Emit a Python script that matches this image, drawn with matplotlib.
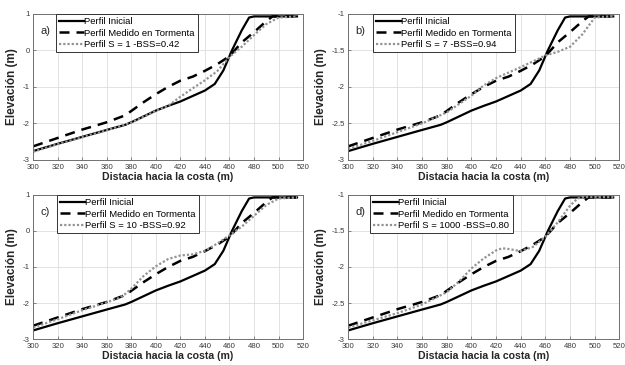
import matplotlib
matplotlib.use('Agg')
import matplotlib.pyplot as plt

plt.rcParams['font.family'] = ['Liberation Sans', 'DejaVu Sans']

'''
1.Data (read from the picture, elevation in the units of panels a/c)
'''
# Initial profile
x_ini = [300, 320, 340, 360, 375, 380, 400, 410, 420, 440, 448, 455, 462, 470, 476, 480, 515]
y_ini = [-2.76, -2.56, -2.37, -2.18, -2.04, -1.97, -1.65, -1.52, -1.4, -1.1, -0.92, -0.55, 0.0, 0.55, 0.9, 0.93, 0.93]

# Profile measured during the storm
x_med = [300, 320, 340, 360, 375, 380, 390, 400, 410, 420, 430, 440, 450, 460, 470, 480, 490, 495, 515]
y_med = [-2.63, -2.4, -2.17, -1.97, -1.78, -1.66, -1.42, -1.2, -1.0, -0.83, -0.72, -0.56, -0.38, -0.16, 0.22, 0.5, 0.8, 0.93, 0.93]

# Modelled profiles
x_s1 = [300, 320, 340, 360, 380, 400, 410, 420, 430, 440, 450, 460, 470, 480, 490, 500, 515]
y_s1 = [-2.78, -2.57, -2.38, -2.19, -1.98, -1.66, -1.52, -1.27, -1.04, -0.82, -0.57, -0.18, 0.1, 0.42, 0.72, 0.9, 0.93]

x_s7 = [300, 320, 340, 360, 380, 400, 410, 420, 440, 460, 470, 480, 490, 500, 515]
y_s7 = [-2.7, -2.48, -2.24, -2.0, -1.7, -1.24, -0.96, -0.76, -0.46, -0.14, -0.04, 0.1, 0.44, 0.9, 0.94]

x_s10 = [300, 320, 340, 360, 370, 375, 380, 390, 400, 410, 420, 430, 440, 450, 460, 470, 480, 490, 500, 515]
y_s10 = [-2.68, -2.45, -2.2, -1.98, -1.86, -1.75, -1.6, -1.25, -0.98, -0.78, -0.68, -0.65, -0.55, -0.35, -0.12, 0.12, 0.42, 0.72, 0.9, 0.93]

x_s1000 = [300, 320, 340, 360, 380, 390, 400, 410, 420, 425, 430, 440, 450, 460, 470, 480, 486, 490, 515]
y_s1000 = [-2.68, -2.48, -2.28, -2.04, -1.7, -1.4, -1.04, -0.76, -0.54, -0.48, -0.5, -0.56, -0.44, -0.16, 0.24, 0.7, 0.9, 0.94, 0.94]

panel_tags = ['a)', 'b)', 'c)', 'd)']
model_labels = ['Perfil S = 1 -BSS=0.42', 'Perfil S = 7 -BSS=0.94',
                'Perfil S = 10 -BSS=0.92', 'Perfil S = 1000 -BSS=0.80']
model_x = [x_s1, x_s7, x_s10, x_s1000]
model_y = [y_s1, y_s7, y_s10, y_s1000]

xticks = [300, 320, 340, 360, 380, 400, 420, 440, 460, 480, 500, 520]
yticks = [-3, -2, -1, 0, 1]
ytick_labels_ac = ['-3', '-2', '-1', '0', '1']
ytick_labels_bd = ['-3', '-2.5', '-2', '-1.5', '-1']  # panels b and d are labelled this way

'''
2.Draw the 4 panels
'''
fig = plt.figure(figsize=(6.25, 3.65), dpi=100)

# [left, bottom, width, height] in figure fractions
boxes = [[0.053, 0.562, 0.432, 0.400],
         [0.557, 0.562, 0.434, 0.400],
         [0.053, 0.071, 0.432, 0.395],
         [0.557, 0.071, 0.434, 0.395]]
legend_x = [0.085, 0.092, 0.089, 0.081]

for i in range(0, 4):
    ax = fig.add_axes(boxes[i])

    ax.plot(x_ini, y_ini, color='k', lw=1.6, label='Perfil Inicial')
    ax.plot(x_med, y_med, color='k', lw=1.8, dashes=(4, 2.8), label='Perfil Medido en Tormenta')
    ax.plot(model_x[i], model_y[i], color='#939393', lw=1.6, dashes=(1, 0.9), label=model_labels[i])

    ax.set_xlim(300, 520)
    ax.set_ylim(-3, 1)
    ax.set_xticks(xticks)
    ax.set_yticks(yticks)
    if i % 2 == 0:
        ax.set_yticklabels(ytick_labels_ac)
    else:
        ax.set_yticklabels(ytick_labels_bd)

    ax.grid(True, color='#dedede', lw=0.6)
    ax.set_axisbelow(True)
    for s in ax.spines.values():
        s.set_color('#707070')
        s.set_linewidth(0.7)
    ax.tick_params(direction='in', length=2.5, width=0.6, colors='#707070',
                   labelcolor='#3a3a3a', labelsize=5.6)
    ax.tick_params(axis='x', pad=3)
    ax.tick_params(axis='y', pad=2.5)

    ax.set_xlabel('Distacia hacia la costa (m)', fontsize=7.6, fontweight='bold',
                  color='#262626', labelpad=0.5)
    ax.set_ylabel('Elevación (m)', fontsize=8.5, fontweight='bold',
                  color='#262626', labelpad=3)

    ax.text(0.028, 0.86, panel_tags[i], transform=ax.transAxes, fontsize=8, color='#262626')

    leg = ax.legend(loc='upper left', bbox_to_anchor=(legend_x[i], 1.0), borderaxespad=0,
                    fontsize=6.8, frameon=True, fancybox=False, framealpha=1,
                    edgecolor='#333333', handlelength=2.6, handletextpad=0.05,
                    labelspacing=0.25, borderpad=0.35)
    leg.get_frame().set_linewidth(0.7)

plt.savefig('out.png', dpi=100)
